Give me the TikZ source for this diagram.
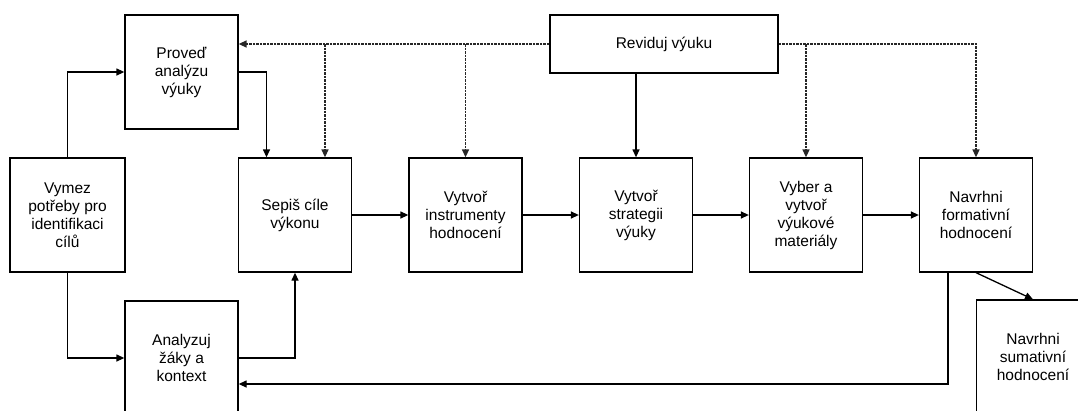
\documentclass[tikz,border=0pt]{standalone}
\usepackage{fontspec}
\setmainfont{Liberation Sans}
\usetikzlibrary{arrows.meta}
\begin{document}
\begin{tikzpicture}[x=1pt,y=-1pt,
  box/.style={draw, line width=1.3pt, minimum width=113pt, minimum height=114pt,
    inner sep=0pt, align=center, font=\fontsize{15.5}{18}\selectfont},
  arr/.style={line width=1.3pt, -{Triangle[length=8pt,width=7pt]}},
  dsh/.style={arr, draw=black!85, line width=1.5pt, dash pattern=on 2.5pt off 1pt}]
\useasboundingbox (0,0) rectangle (1078,410);
\clip (0,0) rectangle (1078,410);
% process boxes
\node[box] (prov) at (181.5,72) {Proveď\\analýzu\\výuky};
\node[box, minimum width=115pt] (vymez) at (67.5,215) {Vymez\\potřeby pro\\identifikaci\\cílů};
\node[box] (sepis) at (295,215) {Sepiš cíle\\výkonu};
\node[box] (anal) at (181.5,358) {Analyzuj\\žáky a\\kontext};
\node[box, minimum width=228pt, minimum height=58pt] (rev) at (664,44) {Reviduj výuku};
\node[box] (instr) at (465.5,215) {Vytvoř\\instrumenty\\hodnocení};
\node[box] (strat) at (636,215) {Vytvoř\\strategii\\výuky};
\node[box] (vyber) at (806,215) {Vyber a\\vytvoř\\výukové\\materiály};
\node[box] (form) at (976,215) {Navrhni\\formativní\\hodnocení};
\node[box] (sum) at (1033,357) {Navrhni\\sumativní\\hodnocení};
% helper points off the box centres
\coordinate (pin) at ([xshift=-28.5pt]sepis.north);
\coordinate (rin) at ([xshift=30pt]sepis.north);
\coordinate (fout) at ([xshift=-28pt]form.south);
\coordinate (ain) at ([yshift=-26pt]anal.east);
% solid flow
\draw[arr] (vymez.north) |- (prov.west);
\draw[arr] (vymez.south) |- (anal.west);
\draw[arr] (prov.east) -| (pin);
\draw[arr] (anal.east) -| (sepis.south);
\draw[arr] (sepis.east) -- (instr.west);
\draw[arr] (instr.east) -- (strat.west);
\draw[arr] (strat.east) -- (vyber.west);
\draw[arr] (vyber.east) -- (form.west);
\draw[arr] (form.south) -- (sum.north);
\draw[arr] (fout) |- (ain);
\draw[arr] (rev.south -| strat.north) -- (strat.north);
% revision feedback
\draw[dsh] (rev.west) -- (rev.west -| prov.east);
\draw[dsh] (rin |- rev.west) -- (rin);
\draw[dsh] (instr.north |- rev.west) -- (instr.north);
\draw[dsh] (vyber.north |- rev.east) -- (vyber.north);
\draw[dsh] (rev.east) -| (form.north);
\end{tikzpicture}
\end{document}
